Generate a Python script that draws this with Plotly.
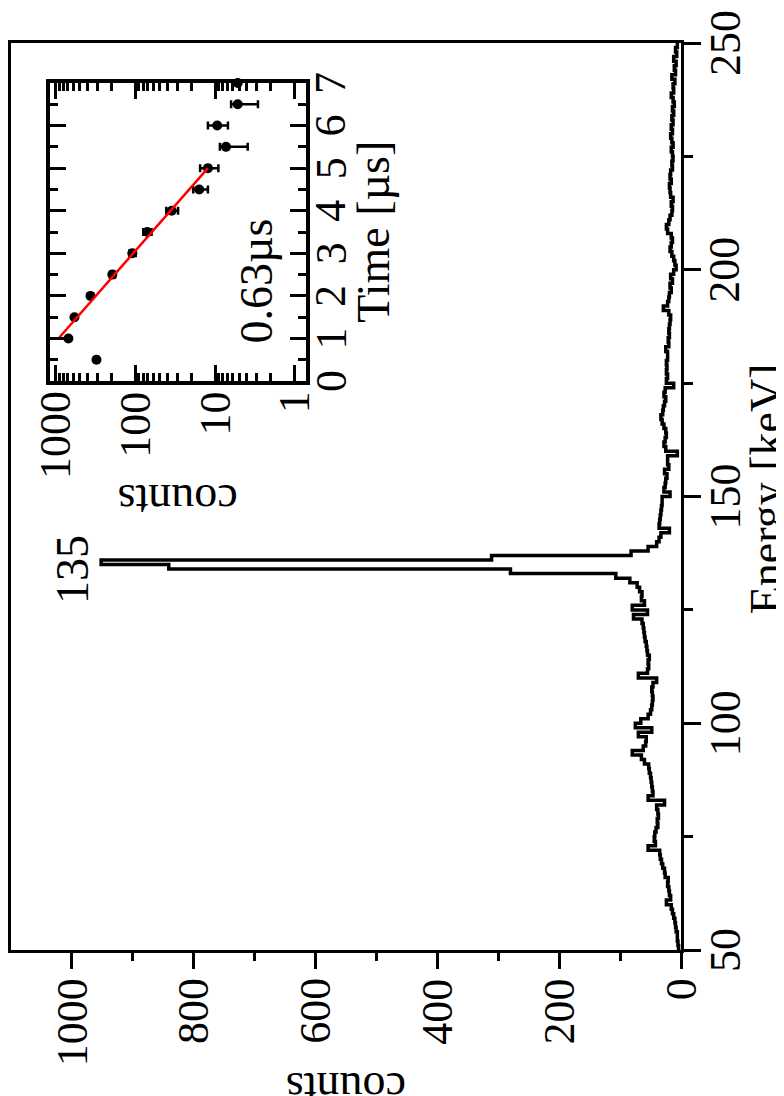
import math
import plotly.graph_objects as go

# Energy spectrum, 1 keV bins starting at 50 keV (counts per bin)
ENERGY_START = 50
BIN_WIDTH = 1
spectrum_counts = [
    4, 5, 6, 6, 8, 9, 10, 12, 14, 16,            # 50-59
    24, 17, 19, 20, 22, 21, 26, 27, 30, 32,      # 60-69
    34, 35, 54, 42, 44, 43, 41, 38, 39, 37,      # 70-79
    38, 40, 27, 54, 46, 47, 48, 49, 50, 52,      # 80-89
    53, 60, 65, 80, 62, 58, 57, 70, 48, 75,      # 90-99
    66, 54, 50, 48, 47, 46, 47, 48, 46, 40,      # 100-109
    70, 55, 53, 54, 52, 55, 56, 57, 59, 60,      # 110-119
    61, 62, 64, 78, 55, 80, 60, 65, 64, 68,      # 120-129
    72, 84, 107, 280, 841, 952, 311, 82, 54, 40, # 130-139
    36, 33, 19, 36, 35, 34, 33, 32, 31, 31,      # 140-149
    18, 28, 26, 25, 23, 27, 20, 22, 22, 6,       # 150-159
    25, 28, 26, 24, 25, 28, 31, 33, 30, 29,      # 160-169
    27, 25, 28, 26, 12, 24, 22, 24, 23, 24,      # 170-179
    22, 22, 25, 20, 21, 19, 20, 19, 18, 17,      # 180-189
    20, 29, 22, 20, 19, 16, 18, 14, 17, 12,      # 190-199
    8, 10, 12, 15, 18, 16, 14, 16, 22, 24,       # 200-209
    20, 18, 15, 14, 16, 13, 17, 18, 19, 16,      # 210-219
    18, 17, 14, 15, 13, 14, 16, 13, 15, 17,      # 220-229
    14, 16, 13, 15, 12, 14, 11, 13, 16, 12,      # 230-239
    13, 10, 15, 9, 11, 8, 12, 7, 9, 6,           # 240-249
]
count_ticks = [0, 200, 400, 600, 800, 1000]
energy_ticks = [50, 100, 150, 200, 250]

# Inset: decay curve of the 135 keV line
decay_time = [0.5, 1.0, 1.5, 2.0, 2.5, 3.0, 3.5, 4.0, 4.5, 5.0, 5.5, 6.0, 6.5, 7.0]
decay_counts = [307, 690, 580, 365, 194, 109, 71, 35, 15.8, 12.3, 7.3, 9.4, 5.2, 5.2]
decay_err_plus = [17, 26, 24, 19, 14, 10, 8.4, 5.9, 3.0, 3.1, 1.4, 2.9, 1.1, 0]
decay_err_minus = [17, 26, 24, 19, 14, 10, 8.4, 5.9, 3.5, 3.2, 3.4, 2.5, 2.3, 0]
fit_time = [1.0, 5.0]
fit_counts = [920, 12.3]
inset_count_ticks = [1, 10, 100, 1000]
inset_time_ticks = [0, 1, 2, 3, 4, 5, 6, 7]

FONT = "Liberation Serif"
FS = 44

# bin edges for the step outline (lower edge of every bin + closing edge)
n = len(spectrum_counts)
edges = [ENERGY_START + i * BIN_WIDTH for i in range(n + 1)]
step_x = spectrum_counts + [spectrum_counts[-1]]

fig = go.Figure()

# Main spectrum, drawn rotated: counts horizontal, energy vertical
fig.add_trace(go.Scatter(
    x=step_x, y=edges, mode="lines", line_shape="vh",
    line=dict(color="black", width=3.5),
    xaxis="x", yaxis="y", showlegend=False,
))

# Inset points with error bars
fig.add_trace(go.Scatter(
    x=decay_counts, y=decay_time, mode="markers",
    marker=dict(color="black", size=10),
    error_x=dict(type="data", array=decay_err_plus, arrayminus=decay_err_minus,
                 color="black", thickness=2.5, width=4),
    cliponaxis=False,
    xaxis="x2", yaxis="y2", showlegend=False,
))

# Exponential fit (straight on the log axis)
fig.add_trace(go.Scatter(
    x=fit_counts, y=fit_time, mode="lines",
    line=dict(color="red", width=2.5),
    xaxis="x2", yaxis="y2", showlegend=False,
))

common = dict(tickcolor="black", tickwidth=3, showticklabels=False,
              automargin=False, showgrid=False, zeroline=False,
              showline=True, linecolor="black")

fig.update_layout(
    width=784, height=1096,
    margin=dict(l=3, r=111, t=35, b=154),
    paper_bgcolor="white", plot_bgcolor="white",
    font=dict(family=FONT, color="black"),
    xaxis=dict(
        range=[1100, 0], tickvals=count_ticks,
        ticks="outside", ticklen=16,
        minor=dict(tickvals=[100, 300, 500, 700, 900], ticks="outside",
                   ticklen=8, tickwidth=3, tickcolor="black"),
        linewidth=3, mirror=True, **common,
    ),
    yaxis=dict(
        range=[50, 250], side="right", tickvals=energy_ticks,
        ticks="outside", ticklen=17,
        minor=dict(tickvals=[75, 125, 175, 225], ticks="outside",
                   ticklen=9, tickwidth=3, tickcolor="black"),
        linewidth=3, mirror=True, **common,
    ),
    xaxis2=dict(
        type="log", range=[3.07, -0.14], domain=[0.0582, 0.4403],
        anchor="y2", tickvals=inset_count_ticks,
        ticks="inside", ticklen=16,
        minor=dict(tickvals=[2, 3, 4, 5, 6, 7, 8, 9, 20, 30, 40, 50, 60, 70, 80, 90,
                             200, 300, 400, 500, 600, 700, 800, 900],
                   ticks="inside", ticklen=8, tickwidth=3, tickcolor="black"),
        linewidth=4, mirror="ticks", **common,
    ),
    yaxis2=dict(
        range=[0, 7], domain=[0.6273, 0.9559], anchor="x2", side="right",
        tickvals=inset_time_ticks,
        ticks="inside", ticklen=16,
        minor=dict(tickvals=[0.5, 1.5, 2.5, 3.5, 4.5, 5.5, 6.5],
                   ticks="inside", ticklen=8, tickwidth=3, tickcolor="black"),
        linewidth=4, mirror="ticks", **common,
    ),
)

tick_font = dict(family=FONT, size=FS, color="black")

# Tick labels: the whole figure is turned by 90 degrees, so they are rotated
# annotations placed at the tick values.
for v in count_ticks:
    fig.add_annotation(text=str(v), xref="x", yref="paper", x=v, y=-0.029,
                       textangle=-90, showarrow=False, font=tick_font,
                       xanchor="center", yanchor="top")
for v in energy_ticks:
    fig.add_annotation(text=str(v), xref="paper", yref="y", x=1.0657, y=v,
                       textangle=-90, showarrow=False, font=tick_font,
                       xanchor="center", yanchor="middle")
for v in inset_count_ticks:
    fig.add_annotation(text=str(v), xref="x2", yref="paper", x=math.log10(v),
                       y=0.618, textangle=-90, showarrow=False, font=tick_font,
                       xanchor="center", yanchor="top")
for v in inset_time_ticks:
    fig.add_annotation(text=str(v), xref="paper", yref="y2", x=0.4776, y=v,
                       textangle=-90, showarrow=False, font=tick_font,
                       xanchor="center", yanchor="middle")

ann_font = dict(family=FONT, size=46, color="black")
# axis titles and labels
fig.add_annotation(text="counts", xref="paper", yref="paper", x=0.5, y=-0.152,
                   textangle=180, showarrow=False, font=ann_font,
                   xanchor="center", yanchor="middle")
fig.add_annotation(text="Energy [keV]", xref="paper", yref="paper", x=1.127, y=0.508,
                   textangle=-90, showarrow=False, font=ann_font,
                   xanchor="center", yanchor="middle")
fig.add_annotation(text="135", xref="x", yref="y", x=998, y=133.8,
                   textangle=-90, showarrow=False, font=ann_font,
                   xanchor="center", yanchor="middle")
fig.add_annotation(text="counts", xref="paper", yref="paper", x=0.249, y=0.495,
                   textangle=180, showarrow=False, font=ann_font,
                   xanchor="center", yanchor="middle")
fig.add_annotation(text="Time [µs]", xref="paper", yref="paper", x=0.542, y=0.792,
                   textangle=-90, showarrow=False, font=ann_font,
                   xanchor="center", yanchor="middle")
fig.add_annotation(text="0.63µs", xref="x2", yref="y2", x=0.475, y=2.36,
                   textangle=-90, showarrow=False, font=ann_font,
                   xanchor="center", yanchor="middle")

fig.write_html("out.html")
